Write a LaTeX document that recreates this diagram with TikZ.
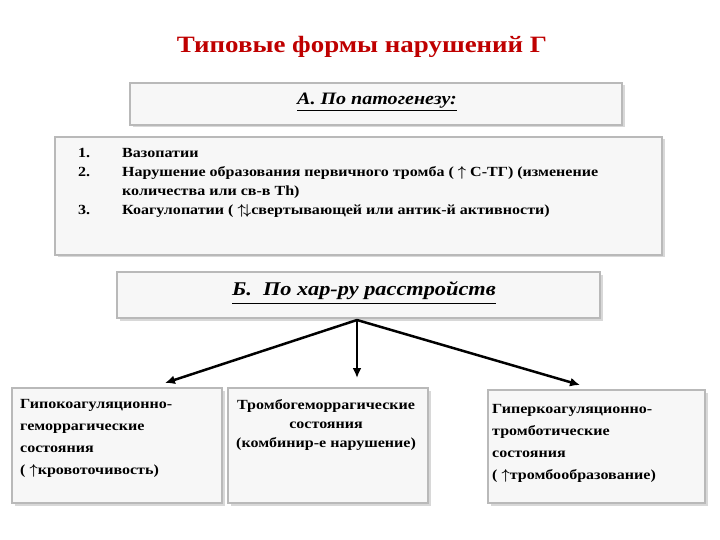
\documentclass[tikz,border=0pt]{standalone}
\usepackage{amsmath}
\usepackage{fontspec}
\setmainfont{Liberation Serif}[FakeStretch=1.15]
\usetikzlibrary{shadows,arrows.meta}
\begin{document}
\begin{tikzpicture}[x=1bp,y=-1bp,
  box/.style={draw=gray!55,line width=1.2pt,fill=gray!6,drop shadow={shadow xshift=2.5bp,shadow yshift=-2.5bp,fill=gray!60}},
  body/.style={font=\fontsize{14}{19}\selectfont\bfseries,anchor=north west,align=left,inner sep=0},
  arr/.style={line width=2.5pt,-{Latex[length=10pt,width=9pt]}}]
\useasboundingbox[fill=white] (0,0) rectangle (720,540);
\node[text=red!75!black,font=\fontsize{23.5}{26}\selectfont\bfseries] (title) at (362,47) {Типовые формы нарушений Г};
\draw[box] (130,83) rectangle (622,125);
\node[font=\fontsize{17.5}{20}\selectfont\bfseries\itshape] (a) at (377,102) {\underline{А. По патогенезу:}};
\draw[box] (55,137) rectangle (662,255);
\node[body] (n1) at (78,148) {1.\\2.\\\\3.};
\node[body] (t1) at (122,148) {Вазопатии\\Нарушение образования первичного тромба ( $\boldsymbol{\uparrow}$ С-ТГ) (изменение\\количества или св-в Th)\\Коагулопатии ( $\boldsymbol{\uparrow\!\downarrow}$свертывающей или антик-й активности)};
\draw[box] (117,272) rectangle (600,318);
\node[font=\fontsize{19.5}{22}\selectfont\bfseries\itshape] (b) at (364,293) {\underline{Б.\ \ По хар-ру расстройств}};
\coordinate (src) at (357,320);
\draw[box] (12,388) rectangle (222,503);
\draw[box] (228,388) rectangle (428,503);
\draw[box] (488,390) rectangle (705,503);
\node[body,font=\fontsize{14}{22}\selectfont\bfseries] (l) at (20,399) {Гипокоагуляционно-\\геморрагические\\состояния\\ ( $\boldsymbol{\uparrow}$кровоточивость)};
\node[body,align=center] (m) at (236,399) {Тромбогеморрагические\\состояния\\(комбинир-е нарушение)};
\node[body,font=\fontsize{14}{22}\selectfont\bfseries] (r) at (492,404) {Гиперкоагуляционно-\\тромботические\\состояния\\( $\boldsymbol{\uparrow}$тромбообразование)};
\coordinate (lt) at (165,383);
\coordinate (mt) at (357,378);
\coordinate (rt) at (580,385);
\draw[arr] (src) -- (lt);
\draw[arr] (src) -- (mt);
\draw[arr] (src) -- (rt);
\end{tikzpicture}
\end{document}
